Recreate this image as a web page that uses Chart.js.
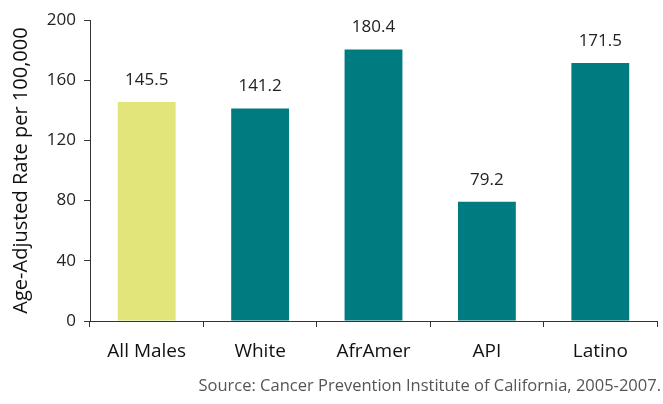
<!DOCTYPE html>
<html>
<head>
<meta charset="utf-8">
<script src="https://cdn.jsdelivr.net/npm/chart.js@4"></script>
<style>
  html, body { margin: 0; padding: 0; background: #fff; }
  #wrap { width: 663px; height: 404px; position: relative; }
</style>
</head>
<body>
<div id="wrap"><canvas id="chart"></canvas></div>
<script>
const categories = ['All Males', 'White', 'AfrAmer', 'API', 'Latino'];
const rates = [145.5, 141.2, 180.4, 79.2, 171.5];
const yTicks = [0, 40, 80, 120, 160, 200];
const barColors = ['#E2E57A', '#007B7F', '#007B7F', '#007B7F', '#007B7F'];
const sourceText = 'Source: Cancer Prevention Institute of California, 2005-2007.';

const FONT = "'Open Sans', 'Noto Sans', sans-serif";

// value labels above bars + source line
const labelPlugin = {
    id: 'labels',
    afterDatasetsDraw(chart) {
        const c = chart.ctx;
        const meta = chart.getDatasetMeta(0);
        c.save();
        c.font = '17px ' + FONT;
        c.fillStyle = '#222';
        c.textAlign = 'center';
        c.textBaseline = 'alphabetic';
        meta.data.forEach((bar, i) => {
            c.fillText(rates[i].toFixed(1), bar.x, bar.y - 17);
        });
        c.font = '16.5px ' + FONT;
        c.fillStyle = '#555';
        c.textAlign = 'right';
        c.textBaseline = 'middle';
        c.fillText(sourceText, 661, 386);
        c.restore();
    }
};

new Chart(document.getElementById('chart').getContext('2d'), {
    type: 'bar',
    data: {
        labels: categories,
        datasets: [{
            data: rates,
            backgroundColor: barColors,
            categoryPercentage: 1,
            barPercentage: 0.51
        }]
    },
    options: {
        responsive: true,
        maintainAspectRatio: false,
        animation: false,
        layout: { padding: { left: 0, top: 20, right: 6, bottom: 0 } },
        plugins: {
            legend: { display: false },
            tooltip: { enabled: false }
        },
        scales: {
            x: {
                grid: {
                    drawOnChartArea: false,
                    tickLength: 6,
                    color: '#333',
                    offset: true
                },
                border: { color: '#333', width: 1 },
                ticks: {
                    color: '#111',
                    font: { family: FONT, size: 19 },
                    padding: 13,
                    maxRotation: 0
                },
                afterFit: s => { s.height = 83; }
            },
            y: {
                min: 0,
                max: 200,
                afterBuildTicks: s => { s.ticks = yTicks.map(v => ({ value: v })); },
                grid: {
                    drawOnChartArea: false,
                    tickLength: 6,
                    color: '#333'
                },
                border: { color: '#333', width: 1 },
                ticks: {
                    color: '#222',
                    font: { family: FONT, size: 17 },
                    padding: 8
                },
                title: {
                    display: true,
                    text: 'Age-Adjusted Rate per 100,000',
                    color: '#111',
                    font: { family: FONT, size: 20 },
                    padding: { top: 9, bottom: 0 }
                },
                afterFit: s => { s.width = 90; }
            }
        }
    },
    plugins: [labelPlugin]
});
</script>
</body>
</html>
